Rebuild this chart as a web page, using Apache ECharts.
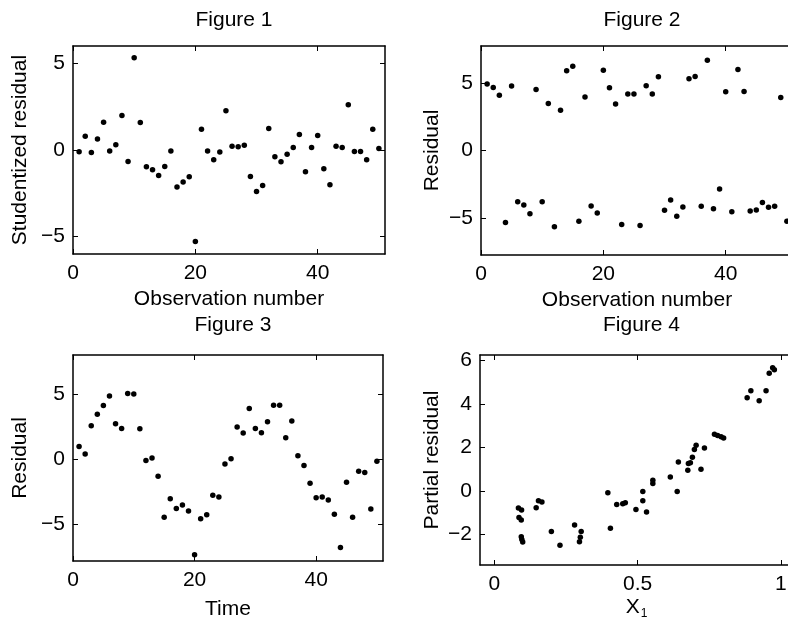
<!DOCTYPE html>
<html>
<head>
<meta charset="utf-8">
<script src="https://cdn.jsdelivr.net/npm/echarts@6/dist/echarts.min.js"></script>
<style>
html,body{margin:0;padding:0;background:#fff;}
#chart{width:788px;height:629px;}
</style>
</head>
<body>
<div id="chart"></div>
<script>
// ---------- data ----------
const obs = [1,2,3,4,5,6,7,8,9,10,11,12,13,14,15,16,17,18,19,20,21,22,23,24,25,26,27,28,29,30,31,32,33,34,35,36,37,38,39,40,41,42,43,44,45,46,47,48,49,50];
const fig1Resid = [-0.1,0.79,-0.15,0.64,1.6,-0.06,0.31,1.99,-0.66,5.32,1.59,-0.97,-1.14,-1.47,-0.95,-0.06,-2.13,-1.84,-1.55,-5.28,1.2,-0.06,-0.56,-0.12,2.26,0.21,0.19,0.27,-1.53,-2.4,-2.05,1.24,-0.39,-0.68,-0.25,0.15,0.89,-1.26,0.14,0.83,-1.08,-2.01,0.21,0.15,2.61,-0.08,-0.08,-0.56,1.2,0.08];
const fig2Resid = [4.93,4.68,4.11,-5.32,4.78,-3.77,-4.01,-4.66,4.53,-3.77,3.5,-5.62,3.0,5.91,6.26,-5.22,3.97,-4.09,-4.61,5.96,4.66,3.45,-5.47,4.19,4.19,-5.54,4.8,4.19,5.47,-4.41,-3.65,-4.85,-4.16,5.32,5.49,-4.11,6.7,-4.29,-2.83,4.36,-4.51,6.01,4.38,-4.46,-4.38,-3.84,-4.19,-4.11,3.94,-5.22];
const fig3Resid = [0.99,0.41,2.57,3.46,4.12,4.86,2.72,2.37,5.04,5.01,2.34,-0.1,0.1,-1.3,-4.45,-3.03,-3.77,-3.51,-3.97,-7.33,-4.55,-4.25,-2.75,-2.9,-0.36,0.05,2.47,2.01,3.89,2.37,2.04,2.88,4.15,4.15,1.65,2.93,0.28,-0.48,-1.83,-2.95,-2.9,-3.13,-4.22,-6.77,-1.76,-4.45,-0.92,-1.02,-3.82,-0.15];
const fig4X = [0.084,0.095,0.086,0.094,0.094,0.096,0.099,0.146,0.154,0.166,0.199,0.229,0.280,0.303,0.300,0.297,0.396,0.405,0.427,0.448,0.457,0.494,0.518,0.518,0.531,0.553,0.553,0.614,0.638,0.642,0.675,0.677,0.684,0.691,0.698,0.704,0.721,0.733,0.768,0.779,0.791,0.800,0.882,0.895,0.924,0.948,0.959,0.971,0.977];
const fig4Partial = [-0.78,-0.87,-1.21,-1.33,-2.10,-2.22,-2.34,-0.77,-0.44,-0.50,-1.85,-2.48,-1.55,-1.85,-2.12,-2.32,-0.08,-1.70,-0.61,-0.58,-0.54,-0.84,-0.02,-0.44,-0.96,0.50,0.35,0.64,-0.02,1.33,0.96,1.27,1.30,1.55,1.91,2.10,1.00,1.97,2.61,2.55,2.49,2.43,4.28,4.60,4.14,4.60,5.40,5.66,5.56];

const titles = ['Figure 1','Figure 2','Figure 3','Figure 4'];
const xNames = ['Observation number','Observation number','Time','X{sub|1}'];
const yNames = ['Studentized residual','Residual','Residual','Partial residual'];
const xTicks = [[0,20,40],[0,20,40],[0,20,40],[0,0.5,1]];
const yTicks = [[-5,0,5],[-5,0,5],[-5,0,5],[-2,0,2,4,6]];

// ---------- layout ----------
const FONT = '"Liberation Sans", Arial, Helvetica, sans-serif';
const FS = 21;
const grids = [
  {left:73, top:46, width:312, height:208},
  {left:481, top:46, width:312, height:209},
  {left:73, top:355, width:310, height:206},
  {left:480, top:355, width:313, height:210}
];
const xRange = [[0,51],[0,51],[0,51],[-0.05,1.042]];
const yRange = [[-6,6],[-7.72,7.75],[-7.8,8],[-3.39,6.24]];
const xGaps = [35,35,38,29];
const yGaps = [42,38,42,37];
const titleTops = [5,5,310,310];

const pairs = [
  obs.map((x,i)=>[x, fig1Resid[i]]),
  obs.map((x,i)=>[x, fig2Resid[i]]),
  obs.map((x,i)=>[x, fig3Resid[i]]),
  fig4X.map((x,i)=>[x, fig4Partial[i]])
];

const fmt = v => String(v).replace('-', '\u2212');
const lineStyle = {color:'#000', width:1.5};

const option = {
  backgroundColor:'#fff',
  animation:false,
  textStyle:{fontFamily:FONT},
  title: titles.map((t,i)=>({
    text:t, left: grids[i].left + grids[i].width/2, top: titleTops[i], textAlign:'center',
    textStyle:{fontFamily:FONT, fontSize:FS, fontWeight:'normal', color:'#000'}
  })),
  grid: grids.map(g=>Object.assign({containLabel:false, outerBoundsMode:'none'}, g)),
  xAxis: [],
  yAxis: [],
  series: []
};

for (let i=0;i<4;i++){
  option.xAxis.push({
    type:'value', gridIndex:i, position:'bottom', min:xRange[i][0], max:xRange[i][1],
    name:xNames[i], nameLocation:'middle', nameGap:xGaps[i],
    nameTextStyle:{fontFamily:FONT, fontSize:FS, color:'#000',
      rich:{sub:{fontFamily:FONT, fontSize:12, color:'#000', padding:[14,0,0,1]}}},
    axisLine:{show:true, onZero:false, lineStyle},
    axisTick:{show:true, inside:true, length:5, customValues:xTicks[i], lineStyle:{color:'#000', width:1}},
    axisLabel:{show:true, customValues:xTicks[i], margin:9, fontFamily:FONT, fontSize:FS, color:'#000', formatter:fmt},
    splitLine:{show:false}
  });
  option.xAxis.push({
    type:'value', gridIndex:i, position:'top', min:xRange[i][0], max:xRange[i][1],
    axisLine:{show:true, onZero:false, lineStyle},
    axisTick:{show:true, inside:true, length:5, customValues:xTicks[i], lineStyle:{color:'#000', width:1}},
    axisLabel:{show:false}, splitLine:{show:false}
  });
  option.yAxis.push({
    type:'value', gridIndex:i, position:'left', min:yRange[i][0], max:yRange[i][1],
    name:yNames[i], nameLocation:'middle', nameGap:yGaps[i], nameRotate:90,
    nameTextStyle:{fontFamily:FONT, fontSize:FS, color:'#000'},
    axisLine:{show:true, onZero:false, lineStyle},
    axisTick:{show:true, inside:true, length:5, customValues:yTicks[i], lineStyle:{color:'#000', width:1}},
    axisLabel:{show:true, customValues:yTicks[i], margin:8, fontFamily:FONT, fontSize:FS, color:'#000', formatter:fmt},
    splitLine:{show:false}
  });
  option.yAxis.push({
    type:'value', gridIndex:i, position:'right', min:yRange[i][0], max:yRange[i][1],
    axisLine:{show:true, onZero:false, lineStyle},
    axisTick:{show:true, inside:true, length:5, customValues:yTicks[i], lineStyle:{color:'#000', width:1}},
    axisLabel:{show:false}, splitLine:{show:false}
  });
  option.series.push({
    type:'scatter', xAxisIndex:2*i, yAxisIndex:2*i, data:pairs[i],
    symbol:'circle', symbolSize:5.5, itemStyle:{color:'#000', opacity:1}, silent:true
  });
}

const chart = echarts.init(document.getElementById('chart'), null, {renderer:'canvas'});
chart.setOption(option);
</script>
</body>
</html>
